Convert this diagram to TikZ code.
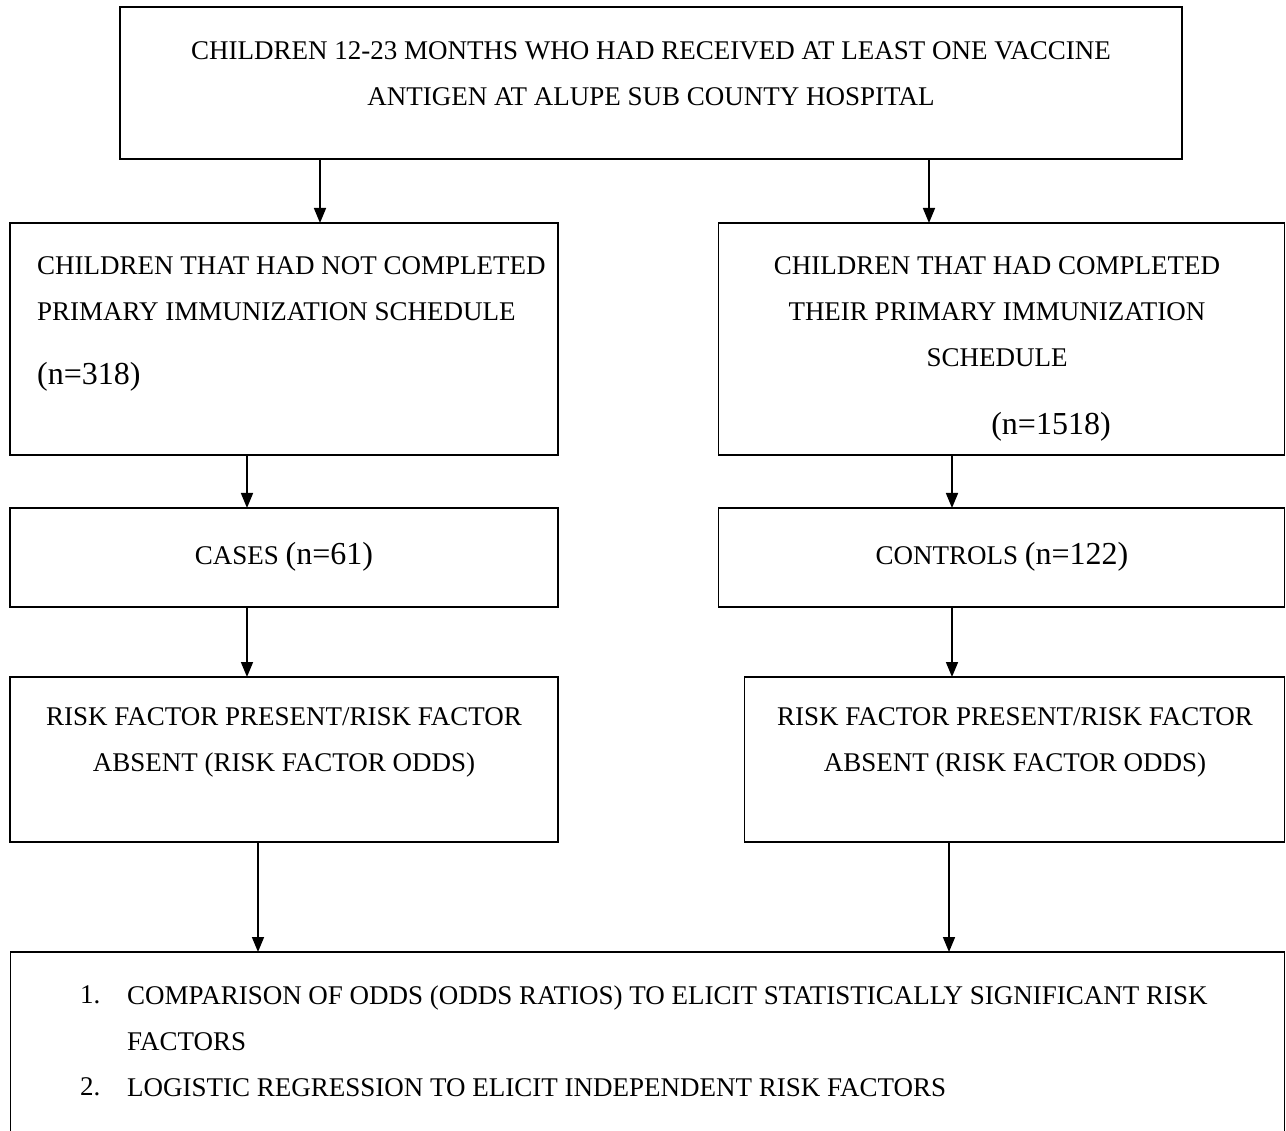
\documentclass[tikz,border=0pt]{standalone}
\usepackage{fontspec}
\setmainfont{Liberation Serif}
\usetikzlibrary{arrows.meta}

\newcommand{\capfont}{\fontsize{27}{46}\selectfont}
\newcommand{\numfont}{\fontsize{32}{46}\selectfont}

\begin{document}
\begin{tikzpicture}[x=1pt, y=-1pt,
        box/.style={draw, line width=1.6pt, inner sep=0pt, outer sep=0pt},
        txt/.style={inner sep=0pt, font=\capfont},
        arr/.style={line width=1.6pt, -{Triangle[length=15pt, width=12pt]}}]

        \useasboundingbox (0,0) rectangle (1286,1131);

        % Define the boxes
        \node[box, minimum width=1062pt, minimum height=152pt] (top) at (651,83) {};
        \node[box, minimum width=548pt, minimum height=232pt] (notdone) at (284,339) {};
        \node[box, minimum width=566pt, minimum height=232pt] (done) at (1001.5,339) {};
        \node[box, minimum width=548pt, minimum height=99pt] (cases) at (284,557.5) {};
        \node[box, minimum width=566pt, minimum height=99pt] (controls) at (1001.5,557.5) {};
        \node[box, minimum width=548pt, minimum height=165pt] (oddsL) at (284,759.5) {};
        \node[box, minimum width=540pt, minimum height=165pt] (oddsR) at (1014.5,759.5) {};
        \node[box, minimum width=1274pt, minimum height=190pt] (analysis) at (647.5,1047) {};

        % Add Text Labels
        \node[txt, align=center] (topT) at (651,73.5)
            {CHILDREN 12-23 MONTHS WHO HAD RECEIVED AT LEAST ONE VACCINE\\ANTIGEN AT ALUPE SUB COUNTY HOSPITAL};
        \node[txt, align=left, anchor=west] (notdoneT) at (37,289)
            {CHILDREN THAT HAD NOT COMPLETED\\PRIMARY IMMUNIZATION SCHEDULE};
        \node[txt, anchor=west, font=\numfont] (notdoneN) at (37,377) {(n=318)};
        \node[txt, align=center] (doneT) at (997,312)
            {CHILDREN THAT HAD COMPLETED\\THEIR PRIMARY IMMUNIZATION\\SCHEDULE};
        \node[txt, font=\numfont] (doneN) at (1051,427) {(n=1518)};
        \node[txt] (casesT) at (284,557) {CASES {\numfont (n=61)}};
        \node[txt] (controlsT) at (1002,557) {CONTROLS {\numfont (n=122)}};
        \node[txt, align=center] (oddsLT) at (284,742.5)
            {RISK FACTOR PRESENT/RISK FACTOR\\ABSENT (RISK FACTOR ODDS)};
        \node[txt, align=center] (oddsRT) at (1015,742.5)
            {RISK FACTOR PRESENT/RISK FACTOR\\ABSENT (RISK FACTOR ODDS)};

        % Numbered list in the last box
        \node[txt, align=left, anchor=west] (listN) at (80,1041) {1.\\ \\2.};
        \node[txt, align=left, anchor=west] (listT) at (127,1041)
            {COMPARISON OF ODDS (ODDS RATIOS) TO ELICIT STATISTICALLY SIGNIFICANT RISK\\FACTORS\\LOGISTIC REGRESSION TO ELICIT INDEPENDENT RISK FACTORS};

        % Columns of the arrows
        \coordinate (c1) at (320,0);
        \coordinate (c2) at (929,0);
        \coordinate (c3) at (247,0);
        \coordinate (c4) at (952,0);
        \coordinate (c5) at (258,0);
        \coordinate (c6) at (949,0);

        % Draw the arrows
        \draw[arr] (top.south -| c1) -- (notdone.north -| c1);
        \draw[arr] (top.south -| c2) -- (done.north -| c2);
        \draw[arr] (notdone.south -| c3) -- (cases.north -| c3);
        \draw[arr] (done.south -| c4) -- (controls.north -| c4);
        \draw[arr] (cases.south -| c3) -- (oddsL.north -| c3);
        \draw[arr] (controls.south -| c4) -- (oddsR.north -| c4);
        \draw[arr] (oddsL.south -| c5) -- (analysis.north -| c5);
        \draw[arr] (oddsR.south -| c6) -- (analysis.north -| c6);

    \end{tikzpicture}
\end{document}
